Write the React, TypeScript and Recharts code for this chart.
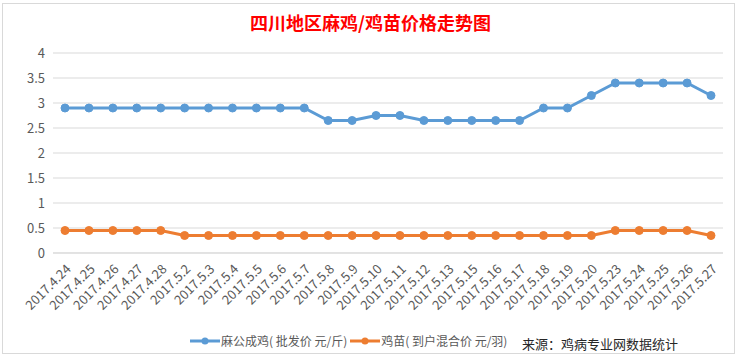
import { LineChart, Line, XAxis, YAxis, CartesianGrid, Legend } from "recharts";

const dates = [
  "2017.4.24", "2017.4.25", "2017.4.26", "2017.4.27", "2017.4.28",
  "2017.5.2", "2017.5.3", "2017.5.4", "2017.5.5", "2017.5.6", "2017.5.7",
  "2017.5.8", "2017.5.9", "2017.5.10", "2017.5.11", "2017.5.12", "2017.5.13",
  "2017.5.15", "2017.5.16", "2017.5.17", "2017.5.18", "2017.5.19", "2017.5.20",
  "2017.5.23", "2017.5.24", "2017.5.25", "2017.5.26", "2017.5.27",
];

// 麻公成鸡 批发价 元/斤
const henPrice = [
  2.9, 2.9, 2.9, 2.9, 2.9, 2.9, 2.9, 2.9, 2.9, 2.9, 2.9,
  2.65, 2.65, 2.75, 2.75, 2.65, 2.65, 2.65, 2.65, 2.65,
  2.9, 2.9, 3.15, 3.4, 3.4, 3.4, 3.4, 3.15,
];

// 鸡苗 到户混合价 元/羽
const chickPrice = [
  0.45, 0.45, 0.45, 0.45, 0.45,
  0.35, 0.35, 0.35, 0.35, 0.35, 0.35, 0.35, 0.35, 0.35, 0.35, 0.35, 0.35,
  0.35, 0.35, 0.35, 0.35, 0.35, 0.35,
  0.45, 0.45, 0.45, 0.45, 0.35,
];

const yTicks = [0, 0.5, 1, 1.5, 2, 2.5, 3, 3.5, 4];

const seriesNames = ["麻公成鸡( 批发价 元/斤)", "鸡苗( 到户混合价 元/羽)"];
const BLUE = "#5b9bd5";
const ORANGE = "#ed7d31";
const FONT = "'Noto Sans CJK SC', 'Noto Sans', sans-serif";

const data = dates.map((d, i) => ({
  date: d,
  hen: henPrice[i],
  chick: chickPrice[i],
}));

function DateTick({ x, y, payload }: any) {
  return (
    <g transform={`translate(${x + 4},${y + 6})`}>
      <text
        x={0}
        y={0}
        dy={4}
        textAnchor="end"
        transform="rotate(-45)"
        fill="#595959"
        fontSize={13}
        fontFamily={FONT}
      >
        {payload.value}
      </text>
    </g>
  );
}

function LegendBox() {
  const items = [
    { name: seriesNames[0], color: BLUE },
    { name: seriesNames[1], color: ORANGE },
  ];
  return (
    <div style={{ display: "flex", alignItems: "center", fontFamily: FONT, fontSize: 12, color: "#595959" }}>
      {items.map((it) => (
        <div key={it.name} style={{ display: "flex", alignItems: "center", marginRight: 3 }}>
          <svg width={30} height={10}>
            <line x1={0} y1={5} x2={30} y2={5} stroke={it.color} strokeWidth={3} />
            <circle cx={15} cy={5} r={3.5} fill={it.color} />
          </svg>
          <span style={{ marginLeft: 1 }}>{it.name}</span>
        </div>
      ))}
    </div>
  );
}

export default function App() {
  return (
    <div
      style={{
        position: "absolute",
        left: 0,
        top: 0,
        width: 741,
        height: 359,
        background: "#fff",
        overflow: "hidden",
      }}
    >
      <div
        style={{
          position: "absolute",
          left: 2,
          top: 3,
          width: 733,
          height: 351,
          border: "1px solid #d9d9d9",
          boxSizing: "border-box",
        }}
      />
      <div
        style={{
          position: "absolute",
          top: 10,
          left: 0,
          width: 741,
          textAlign: "center",
          color: "#ff0000",
          fontFamily: FONT,
          fontWeight: "bold",
          fontSize: 18,
          lineHeight: "24px",
        }}
      >
        四川地区麻鸡/鸡苗价格走势图
      </div>
      <div style={{ position: "absolute", left: 0, top: 0 }}>
        <LineChart
          width={741}
          height={359}
          data={data}
          margin={{ top: 53, right: 18, bottom: 9, left: 0 }}
        >
          <CartesianGrid vertical={false} stroke="#d9d9d9" />
          <XAxis
            dataKey="date"
            interval={0}
            height={80}
            tick={<DateTick />}
            tickLine={false}
            axisLine={{ stroke: "#d9d9d9" }}
            padding={{ left: 12, right: 12 }}
          />
          <YAxis
            width={53}
            domain={[0, 4]}
            ticks={yTicks}
            axisLine={false}
            tickLine={false}
            tick={{ fill: "#595959", fontSize: 13, fontFamily: FONT }}
          />
          <Legend
            verticalAlign="bottom"
            align="left"
            content={() => <LegendBox />}
            wrapperStyle={{ left: 190, bottom: 10, width: "auto" }}
          />
          <Line
            dataKey="hen"
            name={seriesNames[0]}
            stroke={BLUE}
            strokeWidth={3}
            dot={{ r: 4, fill: BLUE, stroke: BLUE, strokeWidth: 1 }}
            isAnimationActive={false}
          />
          <Line
            dataKey="chick"
            name={seriesNames[1]}
            stroke={ORANGE}
            strokeWidth={3}
            dot={{ r: 4, fill: ORANGE, stroke: ORANGE, strokeWidth: 1 }}
            isAnimationActive={false}
          />
        </LineChart>
      </div>
      <div
        style={{
          position: "absolute",
          left: 522,
          top: 334,
          fontFamily: FONT,
          fontSize: 13,
          color: "#262626",
          whiteSpace: "nowrap",
        }}
      >
        来源：鸡病专业网数据统计
      </div>
    </div>
  );
}
